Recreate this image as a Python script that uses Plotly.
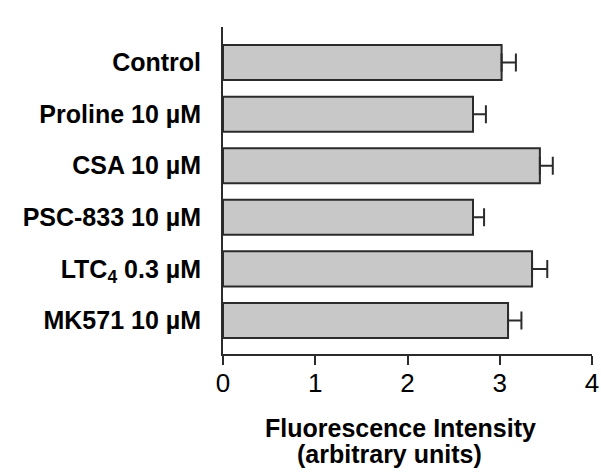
import plotly.graph_objects as go

categories = ["Control", "Proline 10 µM", "CSA 10 µM", "PSC-833 10 µM",
              "LTC<sub>4</sub> 0.3 µM", "MK571 10 µM"]
values = [3.02, 2.71, 3.435, 2.71, 3.35, 3.09]
errors = [0.155, 0.14, 0.14, 0.12, 0.165, 0.145]
x_ticks = [0, 1, 2, 3, 4]
x_title_line1 = "Fluorescence Intensity"
x_title_line2 = "(arbitrary units)"

axis_color = "#2b2b2b"
font_family = "Arial, Liberation Sans, Helvetica, sans-serif"

fig = go.Figure()
fig.add_trace(go.Bar(
    y=categories,
    x=values,
    orientation="h",
    width=0.68,
    marker=dict(color="#c8c8c8", line=dict(color=axis_color, width=2)),
    error_x=dict(type="data", array=errors, arrayminus=[0] * len(errors),
                 symmetric=False, color=axis_color, thickness=2, width=9),
    showlegend=False,
    hoverinfo="skip",
))

fig.update_layout(
    width=601, height=474,
    margin=dict(l=223, r=9, t=27, b=120, autoexpand=False),
    paper_bgcolor="white", plot_bgcolor="white",
    font=dict(family=font_family, color="black"),
)
fig.update_xaxes(
    range=[0, 4], tickvals=x_ticks, ticktext=[str(t) for t in x_ticks],
    showgrid=False, zeroline=False, automargin=False,
    showline=True, linecolor=axis_color, linewidth=2,
    ticks="outside", ticklen=9, tickwidth=2, tickcolor=axis_color,
    ticklabelstandoff=-4, ticklabeloverflow="allow",
    tickfont=dict(size=26, family=font_family, color="black"),
)
fig.update_yaxes(
    type="category", categoryorder="array", categoryarray=categories,
    range=[5.65, -0.69], automargin=False,
    showgrid=False, zeroline=False,
    showline=True, linecolor=axis_color, linewidth=2,
    ticks="", ticklabelstandoff=15,
    tickfont=dict(size=25, family=font_family, color="black", weight="bold"),
)
fig.add_annotation(text="<b>%s</b>" % x_title_line1, xref="paper", yref="paper",
                   x=0.48, y=0, yanchor="middle", yshift=-74, showarrow=False,
                   font=dict(size=25, family=font_family, color="black"))
fig.add_annotation(text="<b>%s</b>" % x_title_line2, xref="paper", yref="paper",
                   x=0.45, y=0, yanchor="middle", yshift=-100, showarrow=False,
                   font=dict(size=25, family=font_family, color="black"))

# remove the browser's default 8px page margin so the figure fills the window
fig.write_html("out.html",
               config={"displayModeBar": False},
               post_script="document.body.style.margin='0';"
                           "document.body.style.overflow='hidden';")
